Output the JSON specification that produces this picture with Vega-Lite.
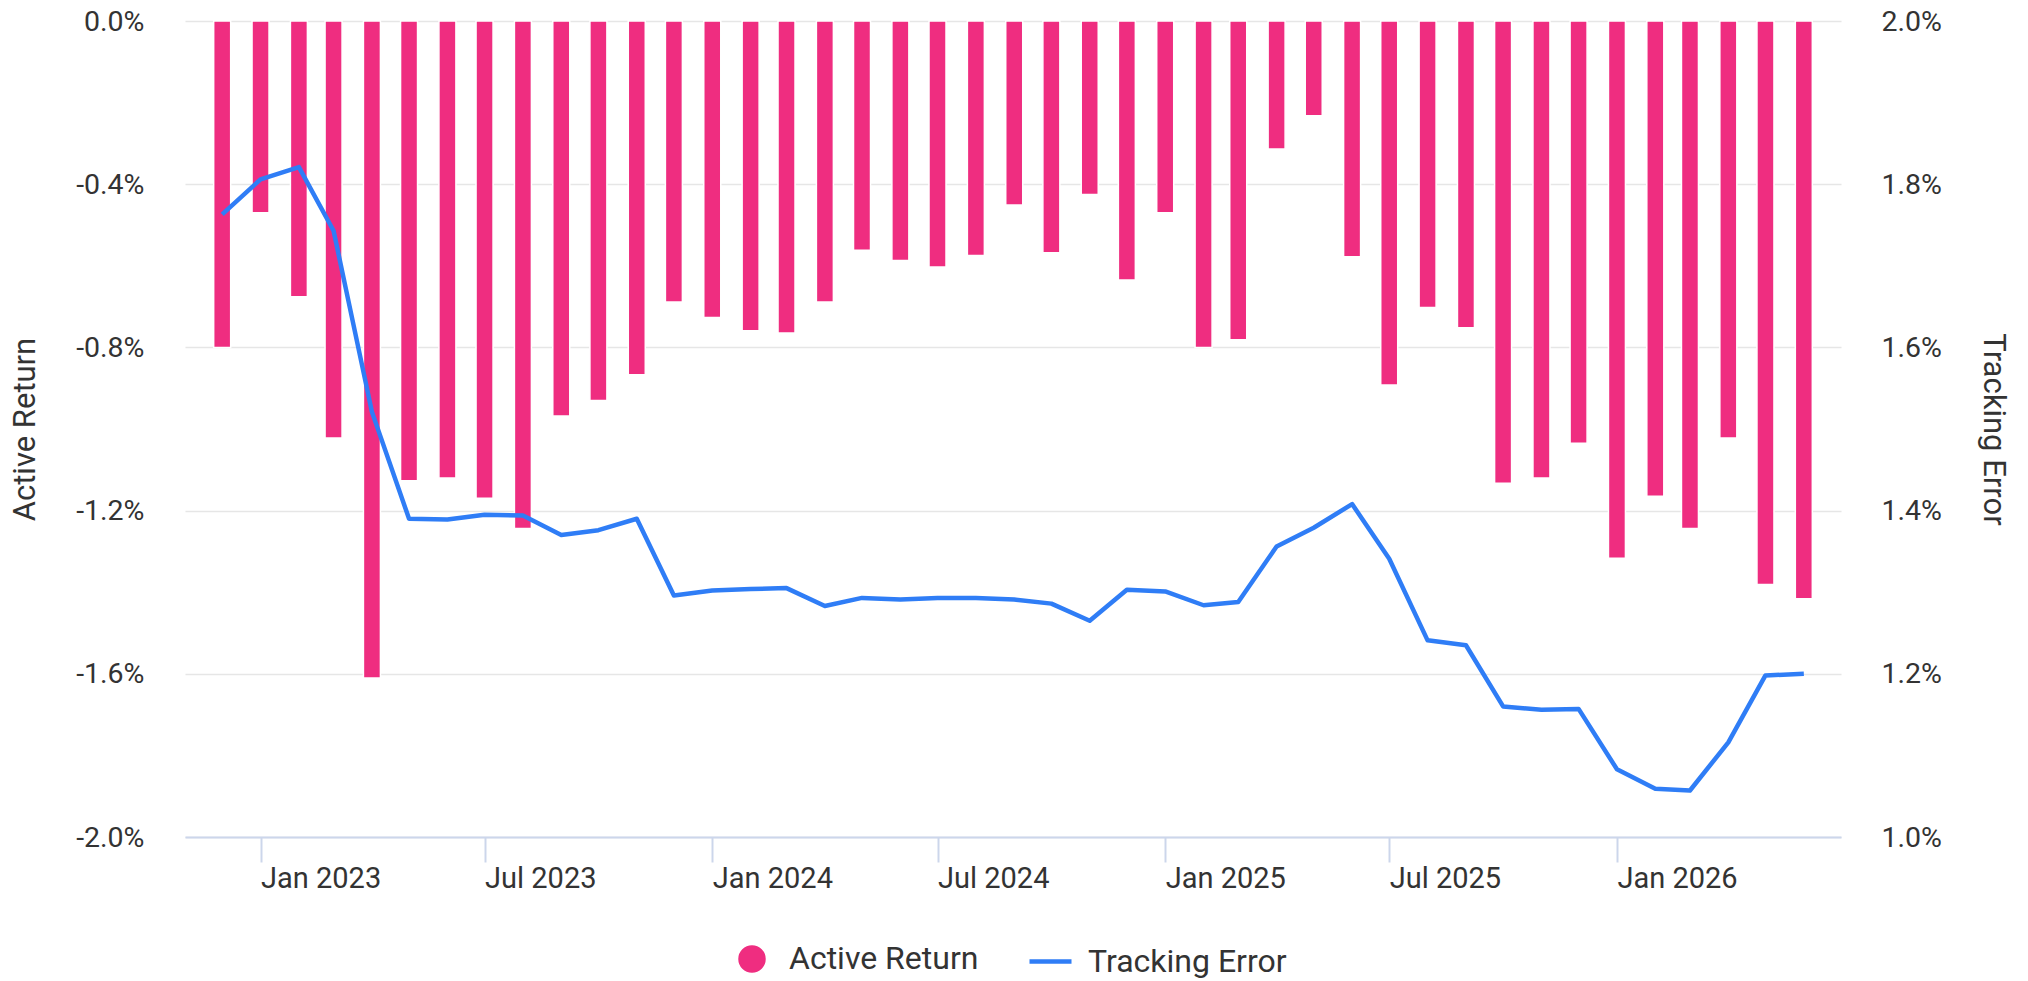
{
  "$schema": "https://vega.github.io/schema/vega-lite/v6.json",
  "autosize": {"type": "none"},
  "width": 1656,
  "height": 816,
  "padding": {"left": 185, "top": 21, "right": 187, "bottom": 144},
  "background": "white",
  "config": {
    "view": {"stroke": null},
    "font": "Roboto",
    "axis": {"labelFont": "Roboto", "titleFont": "Roboto", "labelColor": "#333333", "titleColor": "#333333", "titleFontWeight": "normal"},
    "legend": {"labelFont": "Roboto", "labelColor": "#333333", "padding": 0, "labelLimit": 0}
  },
  "data": {
    "values": [
      {"date": "2022-12-01", "ar": -0.80, "te": 1.763},
      {"date": "2023-01-01", "ar": -0.47, "te": 1.806},
      {"date": "2023-02-01", "ar": -0.676, "te": 1.821},
      {"date": "2023-03-01", "ar": -1.022, "te": 1.743},
      {"date": "2023-04-01", "ar": -1.61, "te": 1.521},
      {"date": "2023-05-01", "ar": -1.127, "te": 1.390},
      {"date": "2023-06-01", "ar": -1.12, "te": 1.389},
      {"date": "2023-07-01", "ar": -1.17, "te": 1.395},
      {"date": "2023-08-01", "ar": -1.244, "te": 1.394},
      {"date": "2023-09-01", "ar": -0.968, "te": 1.370},
      {"date": "2023-10-01", "ar": -0.93, "te": 1.376},
      {"date": "2023-11-01", "ar": -0.867, "te": 1.390},
      {"date": "2023-12-01", "ar": -0.689, "te": 1.296},
      {"date": "2024-01-01", "ar": -0.727, "te": 1.302},
      {"date": "2024-02-01", "ar": -0.759, "te": 1.304},
      {"date": "2024-03-01", "ar": -0.765, "te": 1.305},
      {"date": "2024-04-01", "ar": -0.689, "te": 1.283},
      {"date": "2024-05-01", "ar": -0.562, "te": 1.293},
      {"date": "2024-06-01", "ar": -0.587, "te": 1.291},
      {"date": "2024-07-01", "ar": -0.603, "te": 1.293},
      {"date": "2024-08-01", "ar": -0.575, "te": 1.293},
      {"date": "2024-09-01", "ar": -0.451, "te": 1.291},
      {"date": "2024-10-01", "ar": -0.568, "te": 1.286},
      {"date": "2024-11-01", "ar": -0.425, "te": 1.265},
      {"date": "2024-12-01", "ar": -0.635, "te": 1.303},
      {"date": "2025-01-01", "ar": -0.47, "te": 1.301},
      {"date": "2025-02-01", "ar": -0.80, "te": 1.284},
      {"date": "2025-03-01", "ar": -0.781, "te": 1.288},
      {"date": "2025-04-01", "ar": -0.314, "te": 1.356},
      {"date": "2025-05-01", "ar": -0.232, "te": 1.379},
      {"date": "2025-06-01", "ar": -0.578, "te": 1.408},
      {"date": "2025-07-01", "ar": -0.892, "te": 1.341},
      {"date": "2025-08-01", "ar": -0.702, "te": 1.241},
      {"date": "2025-09-01", "ar": -0.752, "te": 1.235},
      {"date": "2025-10-01", "ar": -1.133, "te": 1.160},
      {"date": "2025-11-01", "ar": -1.12, "te": 1.156},
      {"date": "2025-12-01", "ar": -1.035, "te": 1.157},
      {"date": "2026-01-01", "ar": -1.317, "te": 1.083},
      {"date": "2026-02-01", "ar": -1.165, "te": 1.059},
      {"date": "2026-03-01", "ar": -1.244, "te": 1.057},
      {"date": "2026-04-01", "ar": -1.022, "te": 1.116},
      {"date": "2026-05-01", "ar": -1.381, "te": 1.198},
      {"date": "2026-06-01", "ar": -1.416, "te": 1.200}
    ]
  },
  "encoding": {
    "x": {
      "field": "date",
      "type": "temporal",
      "scale": {
        "type": "utc",
        "domain": [
          {"year": 2022, "month": 11, "date": 5, "utc": true},
          {"year": 2026, "month": 6, "date": 27, "utc": true}
        ]
      },
      "axis": {
        "title": null,
        "values": [
          {"year": 2023, "month": 1, "date": 1, "utc": true},
          {"year": 2023, "month": 7, "date": 1, "utc": true},
          {"year": 2024, "month": 1, "date": 1, "utc": true},
          {"year": 2024, "month": 7, "date": 1, "utc": true},
          {"year": 2025, "month": 1, "date": 1, "utc": true},
          {"year": 2025, "month": 7, "date": 1, "utc": true},
          {"year": 2026, "month": 1, "date": 1, "utc": true}
        ],
        "labelExpr": "utcFormat(datum.value, '%b %Y')",
        "labelFontSize": 29,
        "labelAlign": "left",
        "labelDx": 12,
        "labelPadding": 2,
        "grid": false,
        "domainColor": "#ccd6eb",
        "domainWidth": 2,
        "tickColor": "#ccd6eb",
        "tickWidth": 2,
        "tickSize": 25,
        "labelFlush": false,
        "labelOverlap": false
      }
    }
  },
  "layer": [
    {
      "mark": {"type": "bar", "size": 17, "stroke": "white", "strokeWidth": 1.5},
      "encoding": {
        "y": {
          "field": "ar",
          "type": "quantitative",
          "scale": {"domain": [-2, 0], "nice": false},
          "axis": {
            "title": "Active Return",
            "titleFontSize": 31,
            "titleX": -159.5,
            "titleY": 408,
            "titleAngle": -90,
            "titleAlign": "center",
            "titleBaseline": "middle",
            "values": [0, -0.4, -0.8, -1.2, -1.6, -2.0],
            "labelExpr": "replace(format(datum.value, '.1f'), '\u2212', '-') + '%'",
            "labelFontSize": 28.5,
            "labelPadding": 41,
            "ticks": false,
            "domain": false,
            "grid": true,
            "gridColor": "#e6e6e6",
            "gridWidth": 1.5
          }
        },
        "color": {
          "datum": "Active Return",
          "type": "nominal",
          "scale": {"domain": ["Active Return"], "range": ["#ef2d80"]},
          "legend": {
            "title": null,
            "orient": "none",
            "legendX": 551,
            "legendY": 922,
            "symbolType": "circle",
            "symbolSize": 755,
            "symbolStrokeWidth": 0,
            "labelFontSize": 32,
            "labelOffset": 21
          }
        }
      }
    },
    {
      "mark": {"type": "line", "strokeWidth": 4.5, "strokeJoin": "round"},
      "encoding": {
        "y": {
          "field": "te",
          "type": "quantitative",
          "scale": {"domain": [1, 2], "nice": false},
          "axis": {
            "orient": "right",
            "title": "Tracking Error",
            "titleFontSize": 31,
            "titleX": 151.5,
            "titleY": 408,
            "titleAngle": 90,
            "titleAlign": "center",
            "titleBaseline": "middle",
            "values": [1.0, 1.2, 1.4, 1.6, 1.8, 2.0],
            "labelExpr": "format(datum.value, '.1f') + '%'",
            "labelFontSize": 28.5,
            "labelPadding": 40,
            "ticks": false,
            "domain": false,
            "grid": false
          }
        },
        "color": {
          "datum": "Tracking Error",
          "type": "nominal",
          "scale": {"domain": ["Tracking Error"], "range": ["#2f7df6"]},
          "legend": {
            "title": null,
            "orient": "none",
            "legendX": 842,
            "legendY": 917,
            "symbolType": "stroke",
            "symbolSize": 1764,
            "symbolStrokeWidth": 4.5,
            "labelFontSize": 32,
            "labelOffset": 14
          }
        }
      }
    }
  ],
  "resolve": {
    "scale": {"y": "independent", "color": "independent"},
    "legend": {"color": "independent"}
  }
}
